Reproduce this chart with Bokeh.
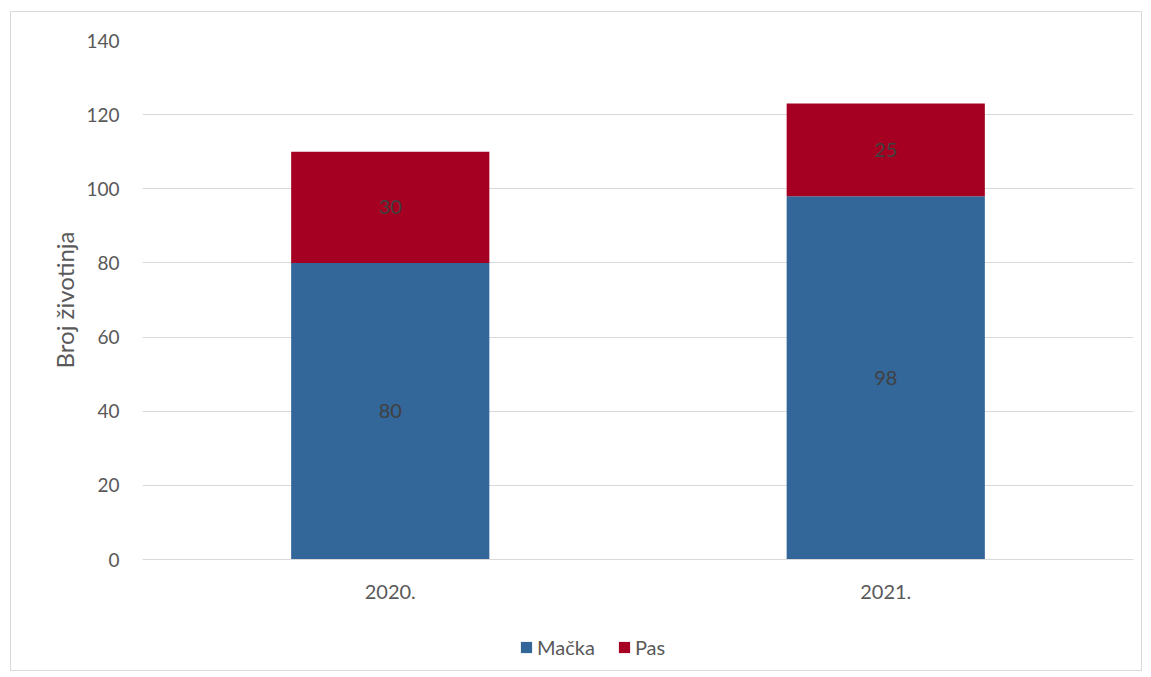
from bokeh.plotting import figure
from bokeh.models import ColumnDataSource, LabelSet, Legend, LegendItem, Title
from bokeh.core.properties import value
from bokeh.embed import file_html
from bokeh.resources import INLINE

years = ["2020.", "2021."]
macka = [80, 98]
pas = [30, 25]
series = ["Mačka", "Pas"]
colors = ["#336699", "#a50021"]
y_title = "Broj životinja"

FONT = "Lato"
src = ColumnDataSource(dict(years=years, macka=macka, pas=pas,
                            macka_mid=[m / 2 for m in macka],
                            pas_mid=[m + p / 2 for m, p in zip(macka, pas)],
                            macka_txt=[str(v) for v in macka],
                            pas_txt=[str(v) for v in pas]))

# layout: 519 px for the 0..140 value span, plus extra room below zero for labels/legend
PLOT_PX = 519
EXTRA_PX = 111
YMAX = 140
ymin = -EXTRA_PX / PLOT_PX * YMAX

p = figure(x_range=years, y_range=(ymin, YMAX), frame_width=991,
           frame_height=PLOT_PX + EXTRA_PX,
           output_backend="svg", toolbar_location=None,
           min_border_left=131, min_border_right=8, min_border_top=28,
           min_border_bottom=0)
p.styles = {"border": "1px solid #d9d9d9", "margin": "11px 0 0 10px"}

r = p.vbar_stack(["macka", "pas"], x="years", width=0.4, source=src,
                 color=colors, line_color=None)

for col, txt in (("macka_mid", "macka_txt"), ("pas_mid", "pas_txt")):
    p.add_layout(LabelSet(x="years", y=col, text=txt, source=src,
                          text_align="center", text_baseline="middle",
                          text_font=value(FONT), text_font_size="20px",
                          text_color="#404040"))

p.outline_line_color = None
p.xgrid.grid_line_color = None
p.ygrid.grid_line_color = "#d9d9d9"
p.ygrid.grid_line_width = 1
p.yaxis.ticker = [0, 20, 40, 60, 80, 100, 120, 140]

for ax in (p.xaxis, p.yaxis):
    ax.major_tick_line_color = None
    ax.minor_tick_line_color = None
    ax.major_tick_out = 0
    ax.major_tick_in = 0
    ax.minor_tick_out = 0
    ax.minor_tick_in = 0
    ax.major_label_text_font = FONT
    ax.major_label_text_font_size = "19px"
    ax.major_label_text_color = "#595959"

p.xaxis.major_label_text_font_size = "20px"
p.yaxis.axis_line_color = None
p.yaxis.major_label_standoff = 23
p.yaxis.bounds = (0, YMAX)
p.xaxis.axis_line_color = "#d9d9d9"
p.xaxis.major_label_standoff = 25
p.xaxis.fixed_location = 0

# y-axis title, aligned to the 0..140 part of the axis
p.add_layout(Title(text=y_title, align="right", offset=191, vertical_align="middle",
                   text_font=FONT, text_font_size="24px", text_font_style="normal",
                   text_color="#595959", standoff=8), "left")

legend = Legend(items=[LegendItem(label=series[i], renderers=[r[i]]) for i in range(2)],
                orientation="horizontal", location=(377, 11),
                label_text_font=FONT, label_text_font_size="20px",
                label_text_color="#595959", glyph_width=14, glyph_height=14,
                label_standoff=4, spacing=22, border_line_color=None,
                background_fill_alpha=0, margin=0, padding=4)
p.add_layout(legend, "center")

open("out.html", "w").write(file_html(p, INLINE))
